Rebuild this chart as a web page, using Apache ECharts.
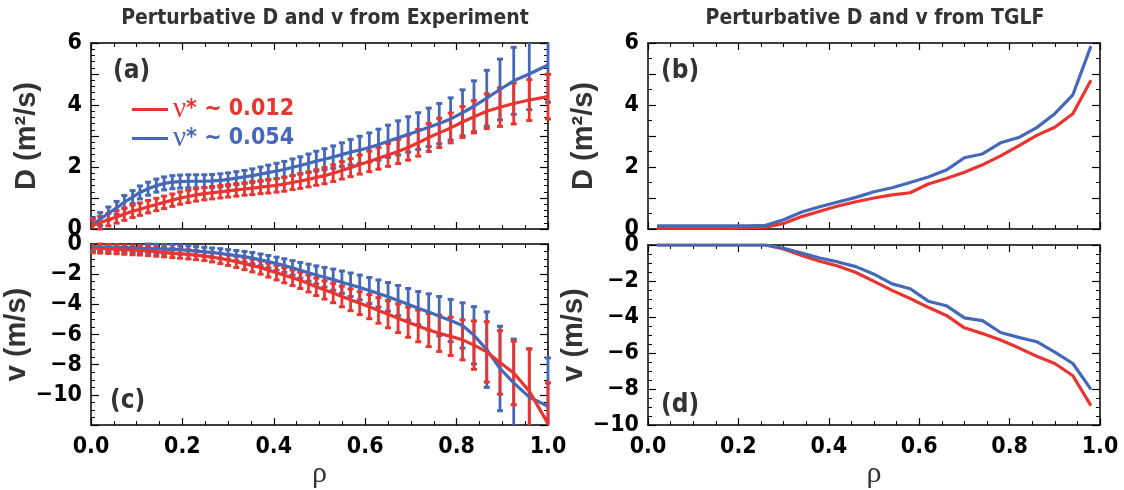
<!DOCTYPE html>
<html>
<head>
<meta charset="utf-8">
<script src="https://cdn.jsdelivr.net/npm/echarts@6/dist/echarts.min.js"></script>
<style>
  html, body { margin: 0; padding: 0; background: #fff; }
  #chart { width: 1124px; height: 490px; }
</style>
</head>
<body>
<div id="chart"></div>
<script>
//*************************************************************************************************data
// experiment: rho grid and D / v profiles with error bars
var rhoExp = [0.004, 0.020, 0.038, 0.056, 0.073, 0.091, 0.107, 0.125, 0.143, 0.160,
              0.178, 0.195, 0.213, 0.230, 0.248, 0.265, 0.283, 0.300, 0.318, 0.336,
              0.353, 0.371, 0.388, 0.406, 0.423, 0.441, 0.458, 0.476, 0.493, 0.511,
              0.530, 0.549, 0.568, 0.588, 0.609, 0.629, 0.650, 0.672, 0.694, 0.716,
              0.739, 0.762, 0.787, 0.813, 0.838, 0.866, 0.895, 0.925, 0.959, 1.000];

var dRed = [0.12, 0.20, 0.30, 0.39, 0.48, 0.57, 0.64, 0.72, 0.79, 0.86,
            0.93, 1.00, 1.05, 1.10, 1.14, 1.17, 1.20, 1.23, 1.26, 1.29,
            1.32, 1.35, 1.38, 1.41, 1.45, 1.50, 1.55, 1.60, 1.66, 1.72,
            1.80, 1.89, 1.98, 2.08, 2.18, 2.28, 2.39, 2.50, 2.63, 2.78,
            2.95, 3.10, 3.26, 3.45, 3.62, 3.80, 3.93, 4.05, 4.16, 4.27];
var dRedErr = [0.20, 0.20, 0.20, 0.20, 0.20, 0.20, 0.20, 0.20, 0.20, 0.20,
               0.20, 0.20, 0.20, 0.20, 0.20, 0.20, 0.20, 0.20, 0.20, 0.20,
               0.21, 0.21, 0.22, 0.22, 0.23, 0.23, 0.24, 0.24, 0.25, 0.26,
               0.27, 0.28, 0.29, 0.31, 0.33, 0.35, 0.37, 0.39, 0.41, 0.43,
               0.45, 0.47, 0.48, 0.50, 0.52, 0.56, 0.62, 0.66, 0.66, 0.72];
var dBlue = [0.15, 0.32, 0.50, 0.68, 0.87, 1.03, 1.18, 1.30, 1.40, 1.47,
             1.51, 1.53, 1.54, 1.54, 1.54, 1.55, 1.57, 1.60, 1.64, 1.68,
             1.72, 1.77, 1.82, 1.87, 1.92, 1.99, 2.05, 2.12, 2.19, 2.25,
             2.32, 2.40, 2.48, 2.55, 2.63, 2.72, 2.83, 2.94, 3.05, 3.16,
             3.28, 3.40, 3.55, 3.75, 3.96, 4.22, 4.50, 4.78, 5.00, 5.29];
var dBlueErr = [0.21, 0.21, 0.21, 0.21, 0.21, 0.21, 0.21, 0.21, 0.21, 0.21,
                0.21, 0.21, 0.21, 0.21, 0.21, 0.21, 0.21, 0.21, 0.21, 0.21,
                0.22, 0.23, 0.24, 0.25, 0.26, 0.27, 0.28, 0.30, 0.32, 0.34,
                0.36, 0.38, 0.41, 0.44, 0.47, 0.50, 0.52, 0.55, 0.57, 0.59,
                0.62, 0.65, 0.68, 0.74, 0.82, 0.90, 0.98, 1.08, 1.15, 1.20];

var vRed = [-0.28, -0.30, -0.33, -0.35, -0.38, -0.41, -0.43, -0.47, -0.51, -0.55,
            -0.60, -0.64, -0.69, -0.74, -0.80, -0.87, -0.96, -1.06, -1.18, -1.30,
            -1.43, -1.56, -1.73, -1.90, -2.07, -2.24, -2.41, -2.62, -2.84, -3.05,
            -3.25, -3.48, -3.70, -3.92, -4.15, -4.40, -4.65, -4.92, -5.18, -5.43,
            -5.70, -5.92, -6.12, -6.35, -6.70, -7.15, -7.85, -8.55, -9.75, -11.90];
var vRedErr = [0.30, 0.30, 0.30, 0.30, 0.30, 0.30, 0.30, 0.30, 0.30, 0.30,
               0.30, 0.30, 0.30, 0.30, 0.30, 0.32, 0.34, 0.36, 0.38, 0.40,
               0.42, 0.44, 0.46, 0.48, 0.50, 0.52, 0.54, 0.56, 0.58, 0.60,
               0.64, 0.68, 0.72, 0.76, 0.80, 0.85, 0.90, 0.95, 1.00, 1.05,
               1.10, 1.20, 1.27, 1.33, 1.60, 2.00, 2.10, 2.10, 2.80, 2.70];
var vBlue = [-0.18, -0.20, -0.21, -0.23, -0.24, -0.26, -0.28, -0.30, -0.32, -0.34,
             -0.36, -0.38, -0.42, -0.47, -0.52, -0.57, -0.63, -0.70, -0.77, -0.84,
             -0.93, -1.05, -1.17, -1.30, -1.43, -1.58, -1.74, -1.90, -2.05, -2.20,
             -2.36, -2.53, -2.70, -2.88, -3.08, -3.28, -3.50, -3.75, -4.00, -4.25,
             -4.50, -4.78, -5.07, -5.40, -6.05, -7.00, -8.25, -9.20, -10.15, -10.75];
var vBlueErr = [0.30, 0.30, 0.30, 0.30, 0.30, 0.30, 0.30, 0.30, 0.30, 0.30,
                0.30, 0.30, 0.30, 0.30, 0.30, 0.31, 0.32, 0.33, 0.34, 0.35,
                0.37, 0.39, 0.41, 0.43, 0.45, 0.48, 0.52, 0.56, 0.60, 0.65,
                0.70, 0.74, 0.78, 0.82, 0.86, 0.90, 0.95, 1.00, 1.05, 1.10,
                1.20, 1.30, 1.40, 1.50, 1.90, 2.50, 2.80, 2.90, 3.20, 3.20];

// TGLF: rho grid and D / v profiles
var rhoTglf = [0.02, 0.06, 0.10, 0.14, 0.18, 0.22, 0.26, 0.30, 0.34, 0.38, 0.42, 0.46, 0.50,
               0.54, 0.58, 0.62, 0.66, 0.70, 0.74, 0.78, 0.82, 0.86, 0.90, 0.94, 0.98];
var dTglfRed = [0.03, 0.03, 0.03, 0.03, 0.03, 0.04, 0.06, 0.18, 0.40, 0.57, 0.74, 0.88, 1.00,
                1.10, 1.17, 1.45, 1.63, 1.83, 2.07, 2.36, 2.68, 3.02, 3.28, 3.72, 4.80];
var dTglfBlue = [0.10, 0.10, 0.10, 0.10, 0.10, 0.10, 0.12, 0.30, 0.55, 0.72, 0.87, 1.02, 1.20,
                 1.33, 1.50, 1.68, 1.90, 2.30, 2.42, 2.78, 2.95, 3.27, 3.72, 4.33, 5.90];
var vTglfRed = [0, 0, 0, 0, 0, 0, 0, -0.22, -0.58, -0.90, -1.17, -1.53, -2.02,
                -2.52, -2.97, -3.46, -3.91, -4.60, -4.92, -5.28, -5.71, -6.18, -6.58, -7.26, -8.92];
var vTglfBlue = [0, 0, 0, 0, 0, 0, 0, -0.18, -0.45, -0.72, -0.94, -1.20, -1.62,
                 -2.16, -2.43, -3.12, -3.37, -4.05, -4.20, -4.86, -5.13, -5.37, -5.95, -6.58, -8.02];

//*************************************************************************************************style
var RED = '#e8352f';
var BLUE = '#4668b9';
var NARROW = '"Liberation Sans Narrow", "DejaVu Sans Condensed", "Arial Narrow", sans-serif';
var SERIF = '"Liberation Serif", "DejaVu Serif", serif';

var grids = [
    { left: 91, top: 43, width: 457, height: 186 },   // (a)
    { left: 91, top: 244, width: 457, height: 187 },  // (c)
    { left: 648, top: 43, width: 452, height: 186 },  // (b)
    { left: 648, top: 245, width: 452, height: 186 }  // (d)
];

function minus(v) {
    return String(v).replace('-', '\u2212');
}

function make_x(g, labels) {
    var base = {
        gridIndex: g, type: 'value', min: 0, max: 1, interval: 0.2,
        axisLine: { show: true, onZero: false, lineStyle: { color: '#000', width: 1.5 } },
        axisTick: { show: true, inside: true, length: 7, lineStyle: { color: '#000', width: 1.2 } },
        minorTick: { show: true, splitNumber: 4, length: 4, lineStyle: { color: '#000', width: 1 } },
        splitLine: { show: false },
        axisLabel: { show: false }
    };
    var bottom = Object.assign({}, base, { position: 'bottom' });
    if (labels) {
        bottom.axisLabel = {
            show: true, margin: 10, color: '#000',
            fontFamily: NARROW, fontWeight: 'bold', fontSize: 23,
            formatter: function (v) { return v.toFixed(1); }
        };
        bottom.name = '\u03c1';
        bottom.nameLocation = 'middle';
        bottom.nameGap = 30;
        bottom.nameTextStyle = { fontFamily: SERIF, fontSize: 30, color: '#333' };
    }
    var top = Object.assign({}, base, { position: 'top' });
    return [bottom, top];
}

function make_y(g, min, max, interval, minorSplit, name, hide) {
    var base = {
        gridIndex: g, type: 'value', min: min, max: max, interval: interval,
        axisLine: { show: true, onZero: false, lineStyle: { color: '#000', width: 1.5 } },
        axisTick: { show: true, inside: true, length: 8, lineStyle: { color: '#000', width: 1.2 } },
        minorTick: { show: true, splitNumber: minorSplit, length: 4, lineStyle: { color: '#000', width: 1 } },
        splitLine: { show: false },
        axisLabel: { show: false }
    };
    var left = Object.assign({}, base, {
        position: 'left',
        name: name, nameLocation: 'middle', nameGap: 50, nameRotate: 90,
        nameTextStyle: { fontFamily: '"Liberation Sans", sans-serif', fontWeight: 'bold', fontSize: 29, color: '#333' },
        axisLabel: {
            show: true, margin: 9, color: '#000', showMinLabel: true, showMaxLabel: true,
            fontFamily: NARROW, fontWeight: 'bold', fontSize: 23,
            formatter: function (v) {
                if (hide(v)) return '';
                return minus(v);
            }
        }
    });
    var right = Object.assign({}, base, { position: 'right' });
    return [left, right];
}

var xAxes = [].concat(
    make_x(0, false),
    make_x(1, true),
    make_x(2, false),
    make_x(3, true)
);
var yAxes = [].concat(
    make_y(0, 0, 6, 1, 5, 'D (m\u00b2/s)', function (v) { return v % 2 !== 0; }),
    make_y(1, -12, 0, 2, 4, 'v (m/s)', function (v) { return v === -12; }),
    make_y(2, 0, 6, 1, 2, 'D (m\u00b2/s)', function (v) { return v % 2 !== 0; }),
    make_y(3, -10, 0, 2, 4, 'v (m/s)', function (v) { return false; })
);

//*************************************************************************************************series
function err_data(rho, val, err) {
    return rho.map(function (r, i) { return [r, val[i] - err[i], val[i] + err[i]]; });
}

function line_data(rho, val) {
    return rho.map(function (r, i) { return [r, val[i]]; });
}

function render_err(params, api) {
    var cs = params.coordSys;
    var x = api.value(0);
    var pHi = api.coord([x, api.value(2)]);
    var pLo = api.coord([x, api.value(1)]);
    var top = cs.y, bot = cs.y + cs.height;
    var color = api.visual('color');
    var yHi = Math.max(pHi[1], top), yLo = Math.min(pLo[1], bot);
    var children = [{
        type: 'line',
        shape: { x1: pHi[0], y1: yHi, x2: pLo[0], y2: yLo },
        style: { stroke: color, lineWidth: 2.8 }
    }];
    var w = 3;
    if (pHi[1] >= top) {
        children.push({ type: 'line', shape: { x1: pHi[0] - w, y1: pHi[1], x2: pHi[0] + w, y2: pHi[1] },
                        style: { stroke: color, lineWidth: 3 } });
    }
    if (pLo[1] <= bot) {
        children.push({ type: 'line', shape: { x1: pLo[0] - w, y1: pLo[1], x2: pLo[0] + w, y2: pLo[1] },
                        style: { stroke: color, lineWidth: 3 } });
    }
    return { type: 'group', children: children };
}

function err_series(name, g, data, color) {
    return {
        name: name, type: 'custom', xAxisIndex: 2 * g, yAxisIndex: 2 * g,
        renderItem: render_err, itemStyle: { color: color }, data: data,
        encode: { x: 0, y: [1, 2] }, silent: true
    };
}

function line_series(name, g, data, color) {
    return {
        name: name, type: 'line', xAxisIndex: 2 * g, yAxisIndex: 2 * g,
        showSymbol: false, symbol: 'none', clip: true, silent: true,
        itemStyle: { color: color },
        lineStyle: { color: color, width: 3.2 }, data: data
    };
}

var series = [
    // (a)
    err_series('errA054', 0, err_data(rhoExp, dBlue, dBlueErr), BLUE),
    line_series('nu054', 0, line_data(rhoExp, dBlue), BLUE),
    err_series('errA012', 0, err_data(rhoExp, dRed, dRedErr), RED),
    line_series('nu012', 0, line_data(rhoExp, dRed), RED),
    // (c)
    err_series('errC054', 1, err_data(rhoExp, vBlue, vBlueErr), BLUE),
    line_series('vC054', 1, line_data(rhoExp, vBlue), BLUE),
    err_series('errC012', 1, err_data(rhoExp, vRed, vRedErr), RED),
    line_series('vC012', 1, line_data(rhoExp, vRed), RED),
    // (b)
    line_series('dB012', 2, line_data(rhoTglf, dTglfRed), RED),
    line_series('dB054', 2, line_data(rhoTglf, dTglfBlue), BLUE),
    // (d)
    line_series('vD012', 3, line_data(rhoTglf, vTglfRed), RED),
    line_series('vD054', 3, line_data(rhoTglf, vTglfBlue), BLUE)
];

function legend_item(name, label, color, top) {
    return {
        data: [name], left: 127, top: top, orient: 'vertical',
        icon: 'rect', itemWidth: 36, itemHeight: 3, selectedMode: false,
        formatter: function () { return '{n|\u03bd}{t|* ~ ' + label + '}'; },
        textStyle: {
            color: color,
            rich: {
                n: { fontFamily: SERIF, fontSize: 29, color: color },
                t: { fontFamily: NARROW, fontWeight: 'bold', fontSize: 23, color: color }
            }
        }
    };
}

function panel_text(txt, x, y) {
    return {
        type: 'text', left: x, top: y,
        style: { text: txt, font: 'bold 26px ' + NARROW, fill: '#333' }
    };
}

//*************************************************************************************************draw
var chart_1 = echarts.init(document.getElementById('chart'), null, { renderer: 'canvas' });

var option = {
    animation: false,
    backgroundColor: '#fff',
    title: [
        { text: 'Perturbative D and v from Experiment', left: 320, top: 3, textAlign: 'center',
          textStyle: { fontFamily: NARROW, fontWeight: 'bold', fontSize: 21, color: '#333' } },
        { text: 'Perturbative D and v from TGLF', left: 870, top: 3, textAlign: 'center',
          textStyle: { fontFamily: NARROW, fontWeight: 'bold', fontSize: 21, color: '#333' } }
    ],
    legend: [
        legend_item('nu012', '0.012', RED, 90),
        legend_item('nu054', '0.054', BLUE, 119)
    ],
    grid: grids,
    xAxis: xAxes,
    yAxis: yAxes,
    series: series,
    graphic: [
        panel_text('(a)', 113, 58),
        panel_text('(c)', 110, 388),
        panel_text('(b)', 661, 58),
        panel_text('(d)', 661, 392)
    ]
};

chart_1.setOption(option);
</script>
</body>
</html>
